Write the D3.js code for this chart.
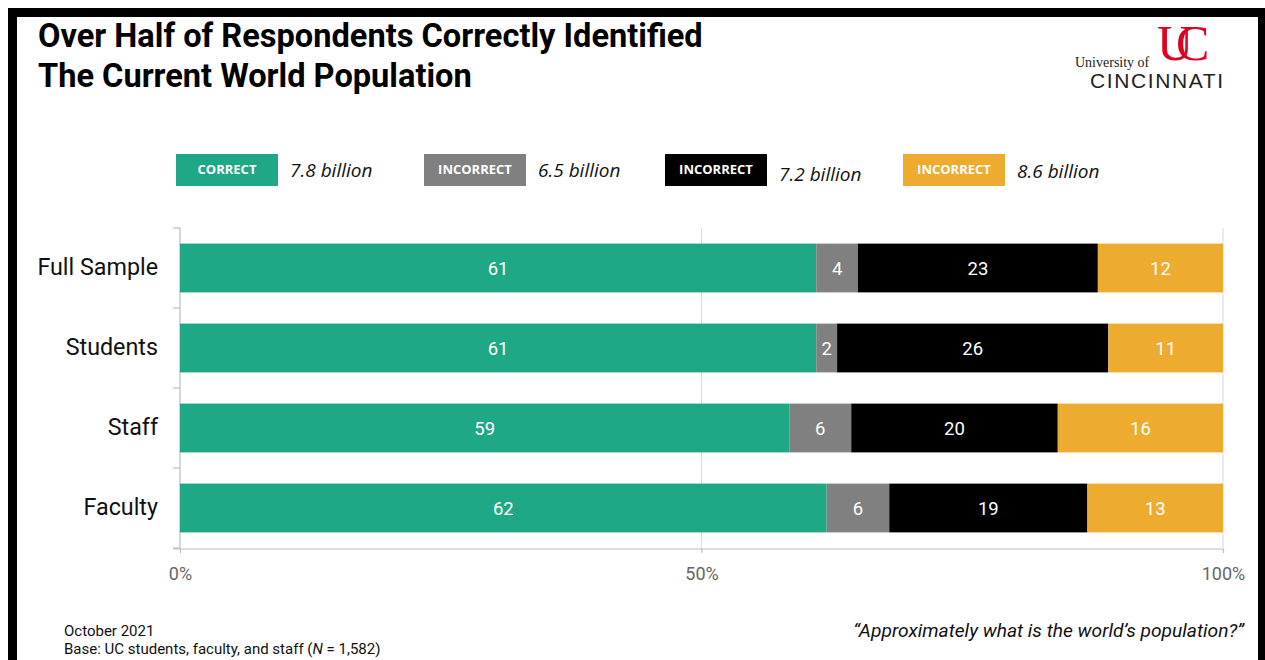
<!DOCTYPE html>
<html>
<head>
<meta charset="utf-8">
<script src="https://cdn.jsdelivr.net/npm/d3@7"></script>
<style>
  html, body { margin: 0; padding: 0; background: #fff; }
  svg { display: block; }
</style>
</head>
<body>
<svg id="chart" width="1265" height="660"></svg>
<script>
// Survey groups (rows of the chart)
const groups = ["Full Sample", "Students", "Staff", "Faculty"];

// Share of answers per group, in percent
const correct78 = [61, 61, 59, 62];
const incorrect65 = [4, 2, 6, 6];
const incorrect72 = [23, 26, 20, 19];
const incorrect86 = [12, 11, 16, 13];

// Legend entries
const seriesKeys = ["c78", "i65", "i72", "i86"];
const seriesTags = ["CORRECT", "INCORRECT", "INCORRECT", "INCORRECT"];
const seriesAnswers = ["7.8 billion", "6.5 billion", "7.2 billion", "8.6 billion"];
const seriesColors = ["#1fa886", "#808080", "#000000", "#edab30"];

// Axis ticks
const xTicks = [0, 0.5, 1];

const rows = groups.map((g, i) => ({
  group: g,
  c78: correct78[i],
  i65: incorrect65[i],
  i72: incorrect72[i],
  i86: incorrect86[i]
}));

const svg = d3.select("#chart");

// Frame
svg.append("rect").attr("x", 8).attr("y", 8).attr("width", 1257).attr("height", 9).attr("fill", "#000");
svg.append("rect").attr("x", 8).attr("y", 8).attr("width", 9).attr("height", 652).attr("fill", "#000");
svg.append("rect").attr("x", 1258).attr("y", 8).attr("width", 7).attr("height", 652).attr("fill", "#000");

// Title
const title = svg.append("text")
  .style("font-family", "Roboto, sans-serif")
  .style("font-weight", 700)
  .style("font-size", "32.6px")
  .attr("fill", "#000");
title.append("tspan").attr("x", 38).attr("y", 47).text("Over Half of Respondents Correctly Identified");
title.append("tspan").attr("x", 38).attr("y", 87).text("The Current World Population");

// University mark
const logo = svg.append("g");
logo.append("text").attr("x", 1157).attr("y", 60)
  .style("font-family", "'Liberation Serif', serif")
  .style("font-size", "50px")
  .style("letter-spacing", "-17px")
  .attr("fill", "#e00122")
  .text("UC");
logo.append("text").attr("x", 1075).attr("y", 67)
  .style("font-family", "'Liberation Serif', serif")
  .style("font-size", "14px")
  .attr("fill", "#222")
  .text("University of");
logo.append("text").attr("x", 1090).attr("y", 88)
  .style("font-family", "'Liberation Sans', sans-serif")
  .style("font-size", "21px")
  .attr("fill", "#222")
  .attr("textLength", 133)
  .text("CINCINNATI");

// Legend
const legendX = [176, 424, 665, 903];
const legendTextY = [177, 177, 181, 178];
const legend = svg.append("g");
seriesKeys.forEach((k, i) => {
  const g = legend.append("g");
  g.append("rect")
    .attr("x", legendX[i]).attr("y", 154)
    .attr("width", 102).attr("height", 32)
    .attr("fill", seriesColors[i]);
  g.append("text")
    .attr("x", legendX[i] + 51).attr("y", 174)
    .attr("text-anchor", "middle")
    .style("font-family", "'Open Sans', sans-serif")
    .style("font-weight", 700)
    .style("font-size", "13px")
    .attr("fill", "#fff")
    .text(seriesTags[i]);
  g.append("text")
    .attr("x", legendX[i] + 114).attr("y", legendTextY[i])
    .style("font-family", "'Open Sans', sans-serif")
    .style("font-style", "italic")
    .style("font-size", "19px")
    .attr("fill", "#111")
    .text(seriesAnswers[i]);
});

// Plot area
const x = d3.scaleLinear().domain([0, 1]).range([180, 1223]);
const yBand = d3.scaleBand().domain(groups).range([228, 548]).paddingInner(0.39).paddingOuter(0.195);
const yStep = d3.scaleBand().domain(groups).range([228, 548]).padding(0);

// Gridlines at 0, 50 %, 100 %
svg.append("g").selectAll("line").data(xTicks).join("line")
  .attr("x1", d => x(d)).attr("x2", d => x(d))
  .attr("y1", 228).attr("y2", 549)
  .attr("stroke", d => d === 0 ? "#bdbdbd" : "#dedede")
  .attr("stroke-width", 1.2);

// Left ticks on the band boundaries
const boundaries = groups.map(g => yStep(g)).concat([548]);
svg.append("g").selectAll("line").data(boundaries).join("line")
  .attr("x1", 173).attr("x2", 180)
  .attr("y1", d => d).attr("y2", d => d)
  .attr("stroke", "#bdbdbd").attr("stroke-width", 1.2);

// Stacked, normalised to each row's total
const stack = d3.stack().keys(seriesKeys).offset(d3.stackOffsetExpand);
const layers = stack(rows);
const color = d3.scaleOrdinal().domain(seriesKeys).range(seriesColors);

const barG = svg.append("g");
layers.forEach(layer => {
  const lg = barG.append("g").attr("fill", color(layer.key));
  lg.selectAll("rect").data(layer).join("rect")
    .attr("x", d => x(d[0]))
    .attr("width", d => x(d[1]) - x(d[0]))
    .attr("y", d => yBand(d.data.group))
    .attr("height", yBand.bandwidth());
  lg.selectAll("text").data(layer).join("text")
    .attr("x", d => (x(d[0]) + x(d[1])) / 2)
    .attr("y", d => yBand(d.data.group) + yBand.bandwidth() / 2 + 6.5)
    .attr("text-anchor", "middle")
    .style("font-family", "Roboto, sans-serif")
    .style("font-size", "18.5px")
    .attr("fill", "#fff")
    .text(d => d.data[layer.key]);
});

// X axis
const xAxis = d3.axisBottom(x).tickValues(xTicks).tickFormat(d3.format(".0%")).tickSize(4).tickSizeOuter(0);
const xg = svg.append("g").attr("transform", "translate(0,549)").call(xAxis);
xg.select(".domain").remove();
xg.selectAll(".tick line").attr("stroke", "#bdbdbd").attr("stroke-width", 1.2);
xg.selectAll(".tick text")
  .attr("y", 18)
  .style("font-family", "Roboto, sans-serif")
  .style("font-size", "18px")
  .attr("fill", "#666");
svg.append("line").attr("x1", 173).attr("x2", 1223).attr("y1", 549).attr("y2", 549)
  .attr("stroke", "#bdbdbd").attr("stroke-width", 1.2);

// Y axis labels
const yAxis = d3.axisLeft(yBand).tickSize(0).tickPadding(22);
const yg = svg.append("g").attr("transform", "translate(180,0)").call(yAxis);
yg.select(".domain").remove();
yg.selectAll(".tick text")
  .style("font-family", "Roboto, sans-serif")
  .style("font-size", "23.3px")
  .attr("fill", "#111");

// Footnotes
const foot = svg.append("g")
  .style("font-family", "Roboto, sans-serif")
  .style("font-size", "15px")
  .attr("fill", "#111");
foot.append("text").attr("x", 64).attr("y", 636).text("October 2021");
const base = foot.append("text").attr("x", 64).attr("y", 654);
base.append("tspan").text("Base: UC students, faculty, and staff (");
base.append("tspan").style("font-style", "italic").text("N");
base.append("tspan").text(" = 1,582)");

svg.append("text")
  .attr("x", 1244).attr("y", 637)
  .attr("text-anchor", "end")
  .style("font-family", "Roboto, sans-serif")
  .style("font-style", "italic")
  .style("font-size", "19.2px")
  .attr("fill", "#111")
  .text("\u201cApproximately what is the world\u2019s population?\u201d");
</script>
</body>
</html>
